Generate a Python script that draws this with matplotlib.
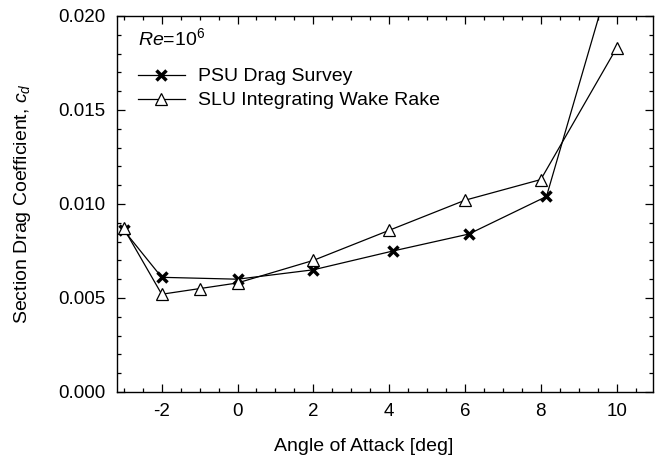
import matplotlib
matplotlib.use("Agg")
import matplotlib.pyplot as plt
from matplotlib.ticker import MultipleLocator, FormatStrFormatter

plt.rcParams['font.family'] = ['Liberation Sans', 'DejaVu Sans']
plt.rcParams['mathtext.fontset'] = 'custom'
plt.rcParams['mathtext.rm'] = 'Liberation Sans'
plt.rcParams['mathtext.it'] = 'Liberation Sans:italic'
plt.rcParams['axes.unicode_minus'] = False

# PSU drag survey
psu_alpha = [-3.0, -2.0, 0.0, 2.0, 4.1, 6.1, 8.15, 10.2]
psu_cd = [0.0086, 0.0061, 0.0060, 0.0065, 0.0075, 0.0084, 0.0104, 0.0246]

# SLU integrating wake rake
slu_alpha = [-3.0, -2.0, -1.0, 0.0, 2.0, 4.0, 6.0, 8.0, 10.0]
slu_cd = [0.0087, 0.0052, 0.0055, 0.0058, 0.0070, 0.0086, 0.0102, 0.0113, 0.0183]

fig = plt.figure(figsize=(6.62, 4.66), dpi=100)
ax = fig.add_axes([0.1767, 0.1588, 0.8097, 0.8069])

ax.plot(psu_alpha, psu_cd, color='black', lw=0.9, marker='x', ms=7.5,
        mew=2.5, label='PSU Drag Survey')
ax.plot(slu_alpha, slu_cd, color='black', lw=0.9, marker='^', ms=9,
        mfc='white', mew=0.9, label='SLU Integrating Wake Rake')

ax.set_xlim(-3.18, 10.96)
ax.set_ylim(0, 0.020)
ax.xaxis.set_major_locator(MultipleLocator(2))
ax.xaxis.set_minor_locator(MultipleLocator(0.5))
ax.yaxis.set_major_locator(MultipleLocator(0.005))
ax.yaxis.set_minor_locator(MultipleLocator(0.001))
ax.yaxis.set_major_formatter(FormatStrFormatter('%.3f'))
ax.tick_params(which='both', direction='in', top=True, right=True, labelsize=13.5, width=0.9)
ax.tick_params(which='major', length=6, pad=8)
ax.tick_params(which='minor', length=3)
for s in ax.spines.values():
    s.set_linewidth(1.0)

ax.set_xlabel('Angle of Attack [deg]', fontsize=14)
ax.set_ylabel('Section Drag Coefficient, $c_d$', fontsize=14)
ax.xaxis.set_label_coords(0.46, -0.122)
ax.yaxis.set_label_coords(-0.157, 0.5)

ax.text(0.04, 0.94, '$Re$=10$^{6}$', transform=ax.transAxes, fontsize=14,
        ha='left', va='center')
ax.legend(loc='upper left', bbox_to_anchor=(0.039, 0.862), frameon=False,
          fontsize=14, handlelength=2.4, handletextpad=0.7, labelspacing=0.32,
          borderpad=0, borderaxespad=0, numpoints=1)

fig.savefig('out.png', dpi=100)
